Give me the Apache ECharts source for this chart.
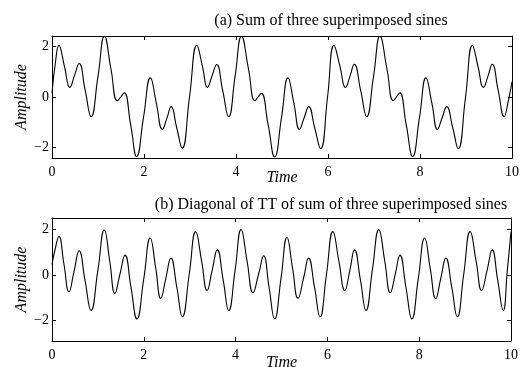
<!DOCTYPE html>
<html>
<head>
<meta charset="utf-8">
<script src="https://cdn.jsdelivr.net/npm/echarts@6/dist/echarts.min.js"></script>
<style>
  html, body { margin: 0; padding: 0; background: #fff; }
  #chart { width: 525px; height: 367px; }
</style>
</head>
<body>
<div id="chart"></div>
<script>
// (a) sum of three superimposed sines
const timeA = [0, 0.07, 0.15, 0.27, 0.39, 0.49, 0.59, 0.72, 0.85, 1.00,
  1.14, 1.28, 1.42, 1.50, 1.57, 1.71, 1.84, 1.99, 2.14, 2.27,
  2.40, 2.50, 2.59, 2.71, 2.83, 2.99, 3.15, 3.27, 3.38, 3.48,
  3.58, 3.71, 3.84, 3.98, 4.12, 4.27, 4.41, 4.48, 4.55, 4.70,
  4.84, 4.99, 5.13, 5.26, 5.38, 5.48, 5.58, 5.71, 5.84, 5.99,
  6.13, 6.26, 6.38, 6.48, 6.57, 6.71, 6.84, 6.99, 7.13, 7.28,
  7.42, 7.49, 7.56, 7.70, 7.84, 7.99, 8.13, 8.26, 8.38, 8.48,
  8.58, 8.71, 8.83, 8.99, 9.14, 9.26, 9.38, 9.48, 9.57, 9.70,
  9.83, 9.92, 10.00];
const ampA = [0.15, 1.3, 2.05, 1.22, 0.38, 0.86, 1.33, 0.28, -0.78, 0.82,
  2.41, 1.13, -0.15, 0.01, 0.17, -1.10, -2.36, -0.80, 0.76, -0.26,
  -1.28, -0.83, -0.38, -1.21, -2.03, 0.01, 2.05, 1.22, 0.38, 0.84,
  1.29, 0.26, -0.78, 0.82, 2.41, 1.13, -0.15, 0.0, 0.15, -1.12,
  -2.38, -0.81, 0.76, -0.26, -1.28, -0.83, -0.38, -1.22, -2.05, 0.0,
  2.05, 1.22, 0.38, 0.84, 1.30, 0.26, -0.78, 0.82, 2.41, 1.13,
  -0.15, 0.01, 0.17, -1.10, -2.36, -0.80, 0.76, -0.26, -1.28, -0.83,
  -0.38, -1.21, -2.05, 0.0, 2.05, 1.22, 0.38, 0.84, 1.30, 0.26,
  -0.78, -0.15, 0.6];

// (b) diagonal of TT
const timeB = [0, 0.07, 0.15, 0.26, 0.37, 0.48, 0.59, 0.72, 0.85, 1.00,
  1.14, 1.26, 1.37, 1.48, 1.59, 1.72, 1.85, 2.00, 2.14, 2.26,
  2.37, 2.48, 2.59, 2.72, 2.84, 2.99, 3.13, 3.26, 3.38, 3.49,
  3.60, 3.73, 3.85, 3.99, 4.12, 4.25, 4.38, 4.50, 4.61, 4.73,
  4.85, 4.99, 5.12, 5.24, 5.36, 5.48, 5.59, 5.72, 5.84, 5.98,
  6.12, 6.25, 6.38, 6.49, 6.59, 6.72, 6.84, 6.98, 7.12, 7.25,
  7.37, 7.48, 7.58, 7.71, 7.84, 7.98, 8.12, 8.24, 8.36, 8.47,
  8.58, 8.71, 8.83, 8.97, 9.11, 9.24, 9.36, 9.48, 9.59, 9.71,
  9.83, 9.92, 10.00];
const ampB = [0.45, 1.15, 1.69, 0.48, -0.74, 0.16, 1.06, -0.25, -1.56, 0.21,
  1.97, 0.58, -0.81, 0.03, 0.87, -0.53, -1.93, -0.16, 1.62, 0.30,
  -1.03, -0.15, 0.74, -0.55, -1.84, 0.03, 1.90, 0.61, -0.68, 0.21,
  1.10, -0.23, -1.56, 0.22, 1.99, 0.61, -0.78, 0.03, 0.84, -0.55,
  -1.93, -0.14, 1.65, 0.31, -1.03, -0.15, 0.74, -0.55, -1.84, 0.03,
  1.90, 0.61, -0.68, 0.21, 1.10, -0.23, -1.56, 0.22, 1.99, 0.61,
  -0.78, 0.05, 0.87, -0.53, -1.93, -0.16, 1.62, 0.29, -1.04, -0.15,
  0.74, -0.55, -1.84, 0.03, 1.90, 0.61, -0.68, 0.21, 1.10, -0.23,
  -1.56, 0.2, 1.9];

const yTicks = [-2, 0, 2];
const titles = ['(a) Sum of three superimposed sines', '(b) Diagonal of TT of sum of three superimposed sines'];

const font = '"Liberation Serif", "DejaVu Serif", serif';
const minus = v => String(v).replace('-', '\u2212');
const line = {show: true, onZero: false, lineStyle: {color: '#000', width: 1}};
const tick = {inside: true, length: 4, lineStyle: {color: '#000'}};
const nameStyle = {fontFamily: font, fontStyle: 'italic', fontSize: 16, color: '#000'};

const xAxes = (gi, gap) => [
  {
    gridIndex: gi, type: 'value', min: 0, max: 10, interval: 2,
    name: 'Time', nameLocation: 'middle', nameGap: gap, nameMoveOverlap: false,
    nameTextStyle: nameStyle,
    axisLine: line, splitLine: {show: false}, axisTick: tick,
    axisLabel: {fontFamily: font, fontSize: 14, color: '#000', margin: 7}
  },
  {
    gridIndex: gi, type: 'value', min: 0, max: 10, interval: 2, position: 'top',
    axisLine: line, splitLine: {show: false}, axisTick: tick,
    axisLabel: {show: false}
  }
];

const yAxes = (gi, min, max) => [
  {
    gridIndex: gi, type: 'value', min, max,
    name: 'Amplitude', nameLocation: 'middle', nameGap: 22, nameMoveOverlap: false,
    nameTextStyle: nameStyle,
    axisLine: line, splitLine: {show: false},
    axisTick: {...tick, customValues: yTicks},
    axisLabel: {fontFamily: font, fontSize: 14, color: '#000', margin: 3,
      customValues: yTicks, formatter: minus}
  },
  {
    gridIndex: gi, type: 'value', min, max, position: 'right',
    axisLine: line, splitLine: {show: false},
    axisTick: {...tick, customValues: yTicks},
    axisLabel: {show: false}
  }
];

const option = {
  animation: false,
  backgroundColor: '#fff',
  title: titles.map((t, i) => ({
    text: t, left: 326, top: i === 0 ? 8 : 192, textAlign: 'center',
    textStyle: {fontFamily: font, fontSize: 16, fontWeight: 'normal', color: '#000'}
  })),
  grid: [
    {left: 52, right: 13, top: 36, height: 122, outerBoundsMode: 'none'},
    {left: 52, right: 14, top: 218, height: 123, outerBoundsMode: 'none'}
  ],
  xAxis: [...xAxes(0, 12), ...xAxes(1, 14)],
  yAxis: [...yAxes(0, -2.42, 2.42), ...yAxes(1, -2.9, 2.5)],
  series: [
    {xAxisIndex: 0, yAxisIndex: 0, data: timeA.map((t, i) => [t, ampA[i]])},
    {xAxisIndex: 2, yAxisIndex: 2, data: timeB.map((t, i) => [t, ampB[i]])}
  ].map(o => ({
    ...o,
    type: 'line',
    smooth: true,
    showSymbol: false,
    lineStyle: {color: '#000', width: 1.1}
  }))
};

const chart = echarts.init(document.getElementById('chart'));
chart.setOption(option);
</script>
</body>
</html>
